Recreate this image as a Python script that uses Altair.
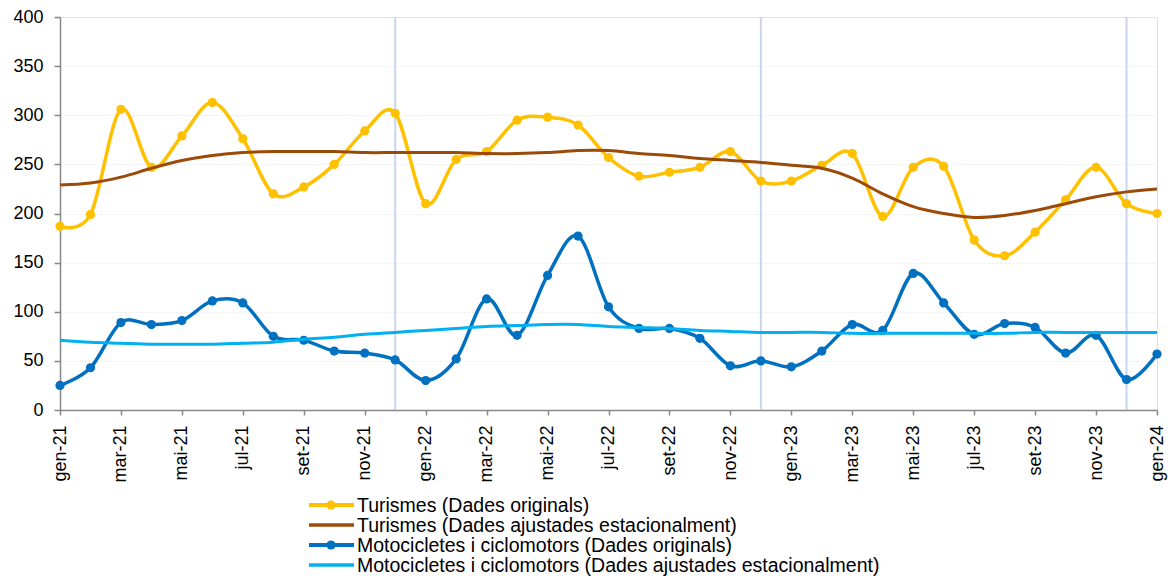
import altair as alt
import pandas as pd

months = ["gen-21","feb-21","mar-21","abr-21","mai-21","jun-21","jul-21","ago-21","set-21","oct-21","nov-21","des-21",
          "gen-22","feb-22","mar-22","abr-22","mai-22","jun-22","jul-22","ago-22","set-22","oct-22","nov-22","des-22",
          "gen-23","feb-23","mar-23","abr-23","mai-23","jun-23","jul-23","ago-23","set-23","oct-23","nov-23","des-23",
          "gen-24"]

turismes_orig = [187, 199, 306, 247, 279, 313, 276, 220, 227, 250, 284, 302,
                 210, 255, 263, 295, 298, 290, 257, 238, 242, 247, 263, 233,
                 233, 249, 261, 197, 247, 248, 173, 157, 181, 214, 247, 210,
                 200]
turismes_adj = [229, 231, 237, 246, 254, 259, 262, 263, 263, 263, 262, 262,
                262, 262, 261, 261, 262, 264, 264, 261, 259, 256, 254, 252,
                249, 246, 236, 220, 207, 200, 196, 198, 203, 210, 217, 222,
                225]
moto_orig = [25, 43, 89, 87, 91, 111, 109, 75, 71, 60, 58, 51,
             30, 52, 113, 76, 137, 177, 105, 83, 83, 73, 45, 50,
             44, 60, 87, 81, 139, 109, 77, 88, 84, 58, 76, 31,
             57]
moto_adj = [71, 69, 68, 67, 67, 67, 68, 69, 72, 74, 77, 79,
            81, 83, 85, 86, 87, 87, 85, 84, 83, 81, 80, 79,
            79, 79, 78, 78, 78, 78, 78, 78, 79, 79, 79, 79,
            79]

series_names = ["Turismes (Dades originals)",
                "Turismes (Dades ajustades estacionalment)",
                "Motocicletes i ciclomotors (Dades originals)",
                "Motocicletes i ciclomotors (Dades ajustades estacionalment)"]
series_values = [turismes_orig, turismes_adj, moto_orig, moto_adj]
series_colors = ["#FFC000", "#9C4A08", "#0070C0", "#00B0F0"]
series_markers = [True, False, True, False]
series_widths = [3.5, 3, 3.5, 3]

year_breaks = [11, 23, 35]

FONT = "Liberation Sans"
W, H = 1097, 393

label_arr = "[" + ",".join("'%s'" % (m if i % 2 == 0 else "") for i, m in enumerate(months)) + "]"

x_scale = alt.Scale(domain=[0, len(months) - 1], nice=False, zero=False)
y_scale = alt.Scale(domain=[0, 400], nice=False)

x_axis = alt.Axis(values=list(range(len(months))), labelExpr=label_arr + "[datum.value]",
                  labelAngle=270, labelFontSize=18, labelFont=FONT, labelColor="#000",
                  labelPadding=10, tickSize=5, tickColor="#888", domainColor="#888",
                  domainWidth=1.5, tickWidth=1.5, grid=False, title=None, labelOverlap=False,
                  labelBound=False, labelFlush=False)
y_axis = alt.Axis(values=list(range(0, 401, 50)), labelFontSize=18, labelFont=FONT,
                  labelColor="#000", labelPadding=11, tickSize=6, tickColor="#888",
                  domainColor="#888", domainWidth=1.5, tickWidth=1.5, grid=True,
                  gridColor="#ebebeb", gridDash=[2, 2], gridWidth=1, title=None)

layers = []

base_df = pd.DataFrame({"x": list(range(len(months))), "y": turismes_orig})
layers.append(alt.Chart(base_df).mark_point(opacity=0).encode(
    x=alt.X("x:Q", scale=x_scale, axis=x_axis),
    y=alt.Y("y:Q", scale=y_scale, axis=y_axis)))

vdf = pd.DataFrame({"x": year_breaks})
layers.append(alt.Chart(vdf).mark_rule(color="#C5D6EE", strokeWidth=2).encode(
    x=alt.X("x:Q", scale=x_scale)))

for name, vals, col, mk, sw in zip(series_names, series_values, series_colors, series_markers, series_widths):
    df = pd.DataFrame({"x": list(range(len(months))), "y": vals})
    enc = dict(x=alt.X("x:Q", scale=x_scale), y=alt.Y("y:Q", scale=y_scale))
    layers.append(alt.Chart(df).mark_line(color=col, strokeWidth=sw, interpolate="cardinal").encode(**enc))
    if mk:
        layers.append(alt.Chart(df).mark_circle(color=col, size=85, opacity=1).encode(**enc))

# legend (manual, below plot)
row_y0, row_dy = 488, 20
for i, (name, col, mk, sw) in enumerate(zip(series_names, series_colors, series_markers, series_widths)):
    yy = row_y0 + row_dy * i
    ldf = pd.DataFrame({"name": [name]})
    layers.append(alt.Chart(ldf).mark_rule(color=col, strokeWidth=sw + 0.5).encode(
        x=alt.value(249), x2=alt.value(294), y=alt.value(yy)))
    if mk:
        layers.append(alt.Chart(ldf).mark_circle(color=col, size=85, opacity=1).encode(
            x=alt.value(271), y=alt.value(yy)))
    layers.append(alt.Chart(ldf).mark_text(align="left", baseline="middle", font=FONT,
                                           fontSize=19.5, color="#000").encode(
        x=alt.value(297), y=alt.value(yy + 1), text="name:N"))

chart = alt.layer(*layers).properties(
    width=W, height=H,
    autosize=alt.AutoSizeParams(type="none"),
    padding={"left": 52, "top": 9, "right": 11, "bottom": 166},
).configure_view(stroke=None).configure(background="white")

chart.save("out.html", embed_options={"renderer": "svg", "actions": False})
